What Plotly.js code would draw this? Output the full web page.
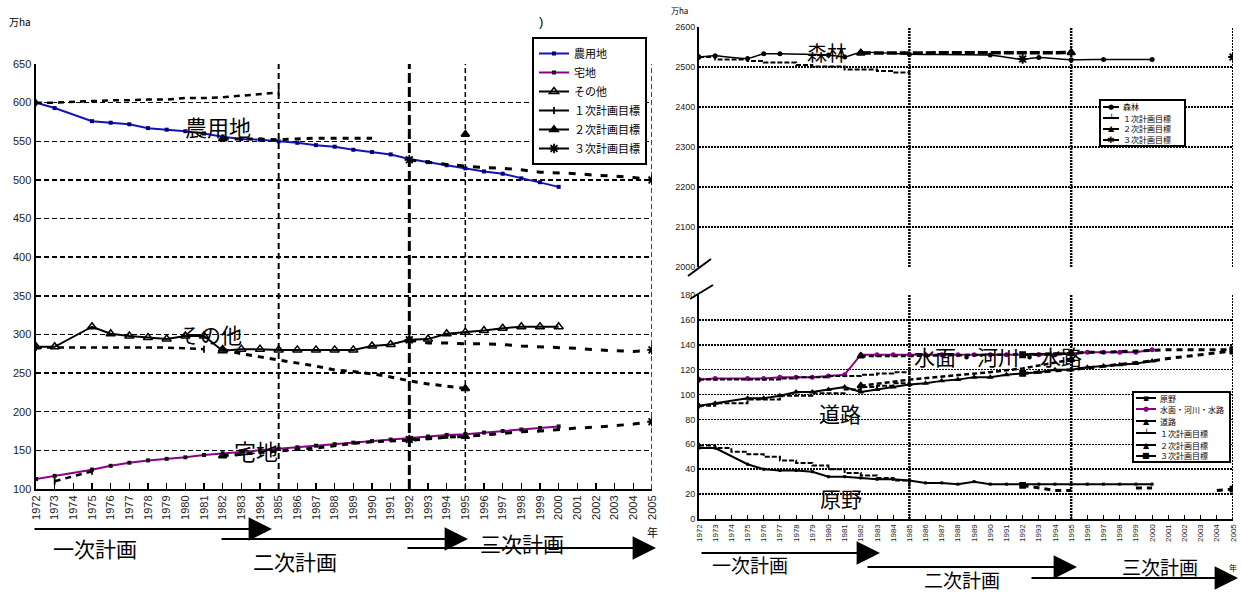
<!DOCTYPE html>
<html><head><meta charset="utf-8">
<script src="https://cdn.plot.ly/plotly-3.0.1.min.js"></script>
<style>body{margin:0;background:#fff}#chart{width:1241px;height:593px}</style>
</head><body><div id="chart"></div>
<script>
// ---------- data ----------
const YRS = [1972,1973,1975,1976,1977,1978,1979,1980,1981,1982,1983,1984,1985,1986,1987,1988,1989,1990,1991,1992,1993,1994,1995,1996,1997,1998,1999,2000];
const TICK_YEARS = [1972,1973,1974,1975,1976,1977,1978,1979,1980,1981,1982,1983,1984,1985,1986,1987,1988,1989,1990,1991,1992,1993,1994,1995,1996,1997,1998,1999,2000,2001,2002,2003,2004,2005];

// left chart (万ha)
const noyouchi = [600,593,576,574,572,567,565,563,560,556,553,552,550,548,545,543,539,536,533,527,523,519,515,511,508,502,497,491];
const takuchi  = [113,117,125,130,134,137,139,141,144,146,148,150,152,154,156,158,160,162,164,166,168,170,171,173,175,177,179,181];
const sonota   = [284,284,310,301,298,296,294,298,298,279,281,281,280,280,280,280,280,285,287,293,294,301,303,305,308,310,310,310];

const p1NoX = [1972,1973,1975,1976,1977,1978,1979,1980,1981,1982,1983,1984,1985];
const p1NoY = [600,600,602,603,603,604,604,606,606,607,609,611,613];
const p1TaX = [1973,1975];
const p1TaY = [110,123];
const p1SoX = [1972,1973,1975,1977,1979,1981];
const p1SoY = [283,283,283,283,283,281];

const p2NoX = [1982,1983,1984,1985,1986,1987,1988,1989,1990,null,1995];
const p2NoY = [553,553,553,552,553,554,554,554,554,null,559];
const p2TaX = [1982,1983,1986,1987,1988,1989,1990,1991,1992,1993,1994,1995];
const p2TaY = [143,145,151,153,156,159,161,162,163,165,167,168];
const p2SoX = [1982,1983,1984,1985,1986,1987,1988,1989,1990,1991,1992,1993,1994,1995];
const p2SoY = [281,275,271,267,263,259,254,252,249,245,240,236,233,230];

const p3X   = [1992,1993,1994,1995,1996,1997,1998,1999,2000,2001,2002,2003,2004,2005];
const p3NoY = [526,523,520,518,516,515,513,510,509,508,506,505,503,500];
const p3TaY = [164,166,167,168,170,172,174,175,177,179,180,182,184,187];
const p3SoY = [293,289,289,288,288,287,285,284,283,282,280,279,278,280];

// right top: forest
const shinrinX = [1972,1973,1975,1976,1977,1980,1981,1982,1985,1990,1992,1993,1995,1997,2000];
const shinrin  = [2525,2528,2521,2533,2533,2530,2525,2537,2532,2530,2519,2524,2518,2519,2519];
const p1ShX = [1972,1973,1975,1976,1978,1979,1981,1983,1984,1985];
const p1ShY = [2525,2519,2515,2511,2505,2501,2494,2490,2486,2486];
const p2ShX = [1982,1995];
const p2ShY = [2535,2536];
const p3ShX = [1992,2005];
const p3ShY = [2520,2525];

// right bottom
const genya  = [57,57,44,40,39,39,38,34,34,33,32,32,31,29,29,28,30,28,28,28,28,28,28,28,28,28,28,28];
const suimen = [112,113,113,113,114,114,114,115,116,132,132,132,132,132,132,132,132,132,132,132,132,132,133,134,134,134,134,136];
const douro  = [91,93,97,97,99,102,102,104,106,102,104,106,108,109,111,112,114,114,116,117,118,120,120,122,123,124,125,127];

const p1GeX = [1972,1973,1974,1975,1976,1977,1978,1979,1980,1981,1982,1983,1984,1985];
const p1GeY = [59,57,54,52,50,47,45,43,40,37,35,33,31,28];
const p1SuX = [1972,1976,1977,1978,1980,1982,1983,1984,1985];
const p1SuY = [112,112,113,114,115,116,117,118,119];
const p1DoX = [1972,1973,1975,1977,1979,1981,1982,1983,1984,1985];
const p1DoY = [91,93,96,99,101,104,106,107,109,111];

const p2SuX = [1982,1983,1984,1985,1990,1995];
const p2SuY = [131,131,131,131,132,133];
const p2DoX = [1982,1985,1990,1992,1995];
const p2DoY = [107,112,118,121,128];

const p3SuX = [1992,1995,1996,1997,2001,2002,2003,2005];
const p3SuY = [132,133,134,134,136,136,136,136];
const p3DoX = [1992,1995,2000,2001,2005];
const p3DoY = [117,120,127,129,135];
const p3GeX = [1992,1993,1994,1995,null,1999,2000,null,2004,2005];
const p3GeY = [27,25,23,23,null,25,25,null,23,24];

// legend labels
const LEFT_NAMES  = ['農用地','宅地','その他','１次計画目標','２次計画目標','３次計画目標'];
const RT_NAMES    = ['森林','１次計画目標','２次計画目標','３次計画目標'];
const RB_NAMES    = ['原野','水面・河川・水路','道路','１次計画目標','２次計画目標','３次計画目標'];

// ---------- helpers ----------
function join(parts){
  const x=[],y=[];
  parts.forEach((p,i)=>{ if(i){x.push(null);y.push(null);} x.push(...p[0]); y.push(...p[1]); });
  return {x,y};
}
function ends(parts){
  const x=[],y=[];
  parts.forEach(p=>{
    const xs=p[0], ys=p[1];
    const idx=[]; xs.forEach((v,i)=>{ if(v!==null) idx.push(i); });
    const a=idx[0], b=idx[idx.length-1];
    x.push(xs[a],null); y.push(ys[a],null);
    if(b!==a){ x.push(xs[b],null); y.push(ys[b],null); }
  });
  return {x,y};
}
const JP = '"Noto Sans CJK JP", sans-serif';
const AR = '"Liberation Sans", Arial, sans-serif';

function target(parts, xa, ya, name, sym, dash, width, shape, showleg, msize){
  const j = join(parts), e = ends(parts);
  return [
    {x:j.x, y:j.y, xaxis:xa, yaxis:ya, mode:'lines', showlegend:false, hoverinfo:'skip',
     line:{color:'#000', width:width, dash:dash, shape:shape||'linear'}},
    {x:e.x, y:e.y, xaxis:xa, yaxis:ya, mode:'lines+markers', name:name, showlegend:showleg,
     line:{color:'#000', width:2}, marker:{symbol:sym, size:msize||7, color:'#000', line:{color:'#000', width:1.8}}}
  ];
}

// ---------- traces ----------
const traces = [];
// left
traces.push({x:YRS, y:noyouchi, mode:'lines+markers', name:LEFT_NAMES[0], line:{color:'#1414b0', width:2},
  marker:{symbol:'square', size:4, color:'#000080'}});
traces.push({x:YRS, y:takuchi, mode:'lines+markers', name:LEFT_NAMES[1], line:{color:'#8b008b', width:2},
  marker:{symbol:'square', size:4, color:'#111'}});
traces.push({x:YRS, y:sonota, mode:'lines+markers', name:LEFT_NAMES[2], line:{color:'#000', width:2},
  marker:{symbol:'triangle-up-open', size:8, color:'#000', line:{width:1.5}}});
traces.push(...target([[p1NoX,p1NoY],[p1TaX,p1TaY],[p1SoX,p1SoY]], 'x','y',LEFT_NAMES[3],'line-ns-open','6px,5px',2.5,null,true,5));
traces.push(...target([[p2NoX,p2NoY],[p2TaX,p2TaY],[p2SoX,p2SoY]], 'x','y',LEFT_NAMES[4],'triangle-up','6px,6px',3,null,true,7));
traces.push(...target([[p3X,p3NoY],[p3X,p3TaY],[p3X,p3SoY]], 'x','y',LEFT_NAMES[5],'asterisk-open','7px,9px',3,null,true,8));

// right top (forest)
traces.push({x:shinrinX, y:shinrin, xaxis:'x3', yaxis:'y2', mode:'lines+markers', name:RT_NAMES[0], showlegend:false,
  line:{color:'#000', width:1.5, shape:'spline', smoothing:0.4}, marker:{symbol:'circle', size:5, color:'#000'}});
traces.push(...target([[p1ShX,p1ShY]], 'x3','y2',RT_NAMES[1],'line-ns-open','5px,2px',2,'hv',false,4));
traces.push(...target([[p2ShX,p2ShY]], 'x3','y2',RT_NAMES[2],'triangle-up','10px,3px',3.5,null,false,7));
(function(){
  const e = ends([[p3ShX,p3ShY]]);
  traces.push({x:e.x, y:e.y, xaxis:'x3', yaxis:'y2', mode:'markers', name:RT_NAMES[3], showlegend:false,
    marker:{symbol:'asterisk-open', size:8, color:'#000', line:{color:'#000', width:2}}});
})();

// right bottom
traces.push({x:YRS, y:genya, xaxis:'x2', yaxis:'y3', mode:'lines+markers', name:RB_NAMES[0], showlegend:false,
  line:{color:'#000', width:2}, marker:{symbol:'square', size:3, color:'#000'}});
traces.push({x:YRS, y:suimen, xaxis:'x2', yaxis:'y3', mode:'lines+markers', name:RB_NAMES[1], showlegend:false,
  line:{color:'#8b008b', width:2}, marker:{symbol:'circle', size:5, color:'#8b008b'}});
traces.push({x:YRS, y:douro, xaxis:'x2', yaxis:'y3', mode:'lines+markers', name:RB_NAMES[2], showlegend:false,
  line:{color:'#000', width:2}, marker:{symbol:'triangle-up', size:6, color:'#000'}});
traces.push(...target([[p1GeX,p1GeY],[p1SuX,p1SuY],[p1DoX,p1DoY]], 'x2','y3',RB_NAMES[3],'line-ns-open','5px,2px',2,'hv',false,4));
traces.push(...target([[p2SuX,p2SuY],[p2DoX,p2DoY]], 'x2','y3',RB_NAMES[4],'triangle-up','5px,3px',2.5,null,false,6));
traces.push(...target([[p3SuX,p3SuY],[p3DoX,p3DoY],[p3GeX,p3GeY]], 'x2','y3',RB_NAMES[5],'square','6px,5px',3,null,false,5));

// ---------- layout ----------
const W=1241, H=593;
const px = v => v/W, py = v => 1 - v/H;

const shapes = [];
const ann = [];
function vline(xref, yref, x, y0, y1, w, dash){
  shapes.push({type:'line', xref:xref, yref:yref, x0:x, x1:x, y0:y0, y1:y1, layer:'below',
    line:{color:'#000', width:w, dash:dash}});
}
vline('x','y',1985,100,650,2,'6px,4px');
vline('x','y',1992,100,650,3,'10px,4px');
vline('x','y',1995,100,650,1.5,'5px,3px');
vline('x','y',2005,100,650,1.5,'5px,3px');
vline('x3','y2',1985,1985,2600,2.5,'2px,1px');
vline('x3','y2',1995,1985,2600,2.5,'2px,1px');
vline('x3','y2',2005,2000,2600,2,'2px,1px');
vline('x2','y3',1985,0,180,2.5,'2px,1px');
vline('x2','y3',1995,0,180,2.5,'2px,1px');
vline('x2','y3',2005,0,180,2,'2px,1px');
// axis-break slashes
shapes.push({type:'line', xref:'paper', yref:'paper', x0:px(688), y0:py(276), x1:px(711), y1:py(259), line:{color:'#000', width:2}});
shapes.push({type:'line', xref:'paper', yref:'paper', x0:px(690), y0:py(299), x1:px(713), y1:py(285), line:{color:'#000', width:2}});

function txt(t, x, y, size, font, extra){
  ann.push(Object.assign({text:t, xref:'paper', yref:'paper', x:px(x), y:py(y), showarrow:false,
    xanchor:'center', yanchor:'middle', font:{family:font||JP, size:size, color:'#000'}}, extra||{}));
}
function arrow(x0, x1, y){
  ann.push({text:'', xref:'paper', yref:'paper', x:px(x1), y:py(y), ax:x0-x1, ay:0, axref:'pixel', ayref:'pixel',
    showarrow:true, arrowhead:2, arrowsize:2.6, arrowwidth:1.8, arrowcolor:'#000', standoff:0, startstandoff:0});
}
// small boxed legends for the right panels
const GF = '"DejaVu Sans", sans-serif';
function boxLegend(x0, y0, w, h, rowY, sampleW, names, styles, fsize){
  shapes.push({type:'rect', xref:'paper', yref:'paper', x0:px(x0), x1:px(x0+w), y0:py(y0), y1:py(y0+h),
    fillcolor:'#fff', line:{color:'#000', width:2}, layer:'above'});
  names.forEach((n,i)=>{
    const y = y0 + rowY[i];
    const st = styles[i];
    shapes.push({type:'line', xref:'paper', yref:'paper', x0:px(x0+3), x1:px(x0+3+sampleW), y0:py(y), y1:py(y),
      line:{color:st.c, width:2}, layer:'above'});
    ann.push({text:st.g, xref:'paper', yref:'paper', x:px(x0+3+sampleW/2), y:py(y), showarrow:false,
      xanchor:'center', yanchor:'middle', font:{family:GF, size:st.gs, color:st.c}});
    txt(n, x0+5+sampleW, y, fsize, JP, {xanchor:'left'});
  });
}
boxLegend(1100, 100, 85, 46, [7,18,29,40], 16, RT_NAMES,
  [{c:'#000',g:'●',gs:7},{c:'#000',g:'╵',gs:9},{c:'#000',g:'▲',gs:8},{c:'#000',g:'✱',gs:9}], 8);
boxLegend(1133, 392, 97, 70, [6,17,29,41,53,64], 20, RB_NAMES,
  [{c:'#000',g:'▪',gs:9},{c:'#8b008b',g:'●',gs:7},{c:'#000',g:'▲',gs:8},{c:'#000',g:'╵',gs:9},{c:'#000',g:'▲',gs:8},{c:'#000',g:'■',gs:8}], 8);

txt('万ha', 20, 21, 10, JP);
txt(')', 541, 21, 13, AR);
txt('万ha', 679, 10, 8, JP);
txt('農用地', 218, 126, 22);
txt('その他', 210, 334, 21);
txt('宅地', 256, 450, 22);
txt('森林', 827, 53, 20);
txt('水面・河川・水路', 998, 356, 21);
txt('道路', 840, 413, 21);
txt('原野', 841, 498, 21);
txt('年', 652, 532, 11);
txt('年', 1233, 567, 8);
// plan arrows (left)
arrow(33, 272, 529); txt('一次計画', 95, 548, 21);
arrow(220, 468, 539); txt('二次計画', 295, 561, 21);
arrow(406, 656, 548); txt('三次計画', 522, 543, 21);
// plan arrows (right)
arrow(700, 880, 553); txt('一次計画', 750, 564, 19);
arrow(866, 1077, 567); txt('二次計画', 962, 579, 19);
arrow(1030, 1238, 578); txt('三次計画', 1160, 566, 19);

const layout = {
  width:W, height:H, margin:{l:0,r:0,t:0,b:0},
  paper_bgcolor:'#fff', plot_bgcolor:'#fff',
  font:{family:AR, color:'#000'},
  showlegend:true,
  xaxis:{domain:[px(36),px(652)], range:[1972,2005], tickvals:TICK_YEARS, ticktext:TICK_YEARS.map(String),
    tickangle:-90, ticks:'inside', ticklen:6, tickcolor:'#000', tickwidth:1.5,
    showline:true, linecolor:'#000', linewidth:2, showgrid:false, zeroline:false,
    tickfont:{family:AR, size:11, color:'#222'}, anchor:'y'},
  yaxis:{domain:[py(489),py(64)], range:[100,650], dtick:50, tick0:100,
    showline:true, linecolor:'#000', linewidth:2.5, ticks:'', showgrid:true, gridcolor:'#000',
    griddash:'5px,3px', gridwidth:1.5, zeroline:false, tickfont:{family:AR, size:11, color:'#222'}, anchor:'x'},
  xaxis2:{domain:[px(699),px(1233)], range:[1972,2005], tickvals:TICK_YEARS, ticktext:TICK_YEARS.map(String),
    tickangle:-90, ticks:'inside', ticklen:4, tickcolor:'#000', showline:true, linecolor:'#000', linewidth:2,
    showgrid:false, zeroline:false, tickfont:{family:AR, size:8, color:'#222'}, anchor:'y3'},
  xaxis3:{domain:[px(699),px(1233)], range:[1972,2005], matches:'x2', showticklabels:false, ticks:'',
    showline:false, showgrid:false, zeroline:false, anchor:'y2'},
  yaxis2:{domain:[py(267),py(27)], range:[2000,2600], dtick:100, tick0:2000, showline:true, linecolor:'#000', linewidth:2,
    ticks:'', showgrid:true, gridcolor:'#000', griddash:'2px,1px', gridwidth:1.5, zeroline:false,
    tickfont:{family:AR, size:9, color:'#222'}, anchor:'x3'},
  yaxis3:{domain:[py(519),py(295)], range:[0,180], dtick:20, tick0:0, showline:true, linecolor:'#000', linewidth:2,
    ticks:'', showgrid:true, gridcolor:'#000', griddash:'2px,1px', gridwidth:1.5, zeroline:false,
    tickfont:{family:AR, size:9, color:'#222'}, anchor:'x2'},
  legend:{x:px(532), y:py(37), xanchor:'left', yanchor:'top', bgcolor:'#fff', bordercolor:'#000', borderwidth:2,
    font:{family:JP, size:11, color:'#000'}, itemwidth:30, tracegroupgap:0},
  shapes:shapes, annotations:ann, hovermode:false
};
Plotly.newPlot('chart', traces, layout, {displayModeBar:false, staticPlot:true});
</script></body></html>
